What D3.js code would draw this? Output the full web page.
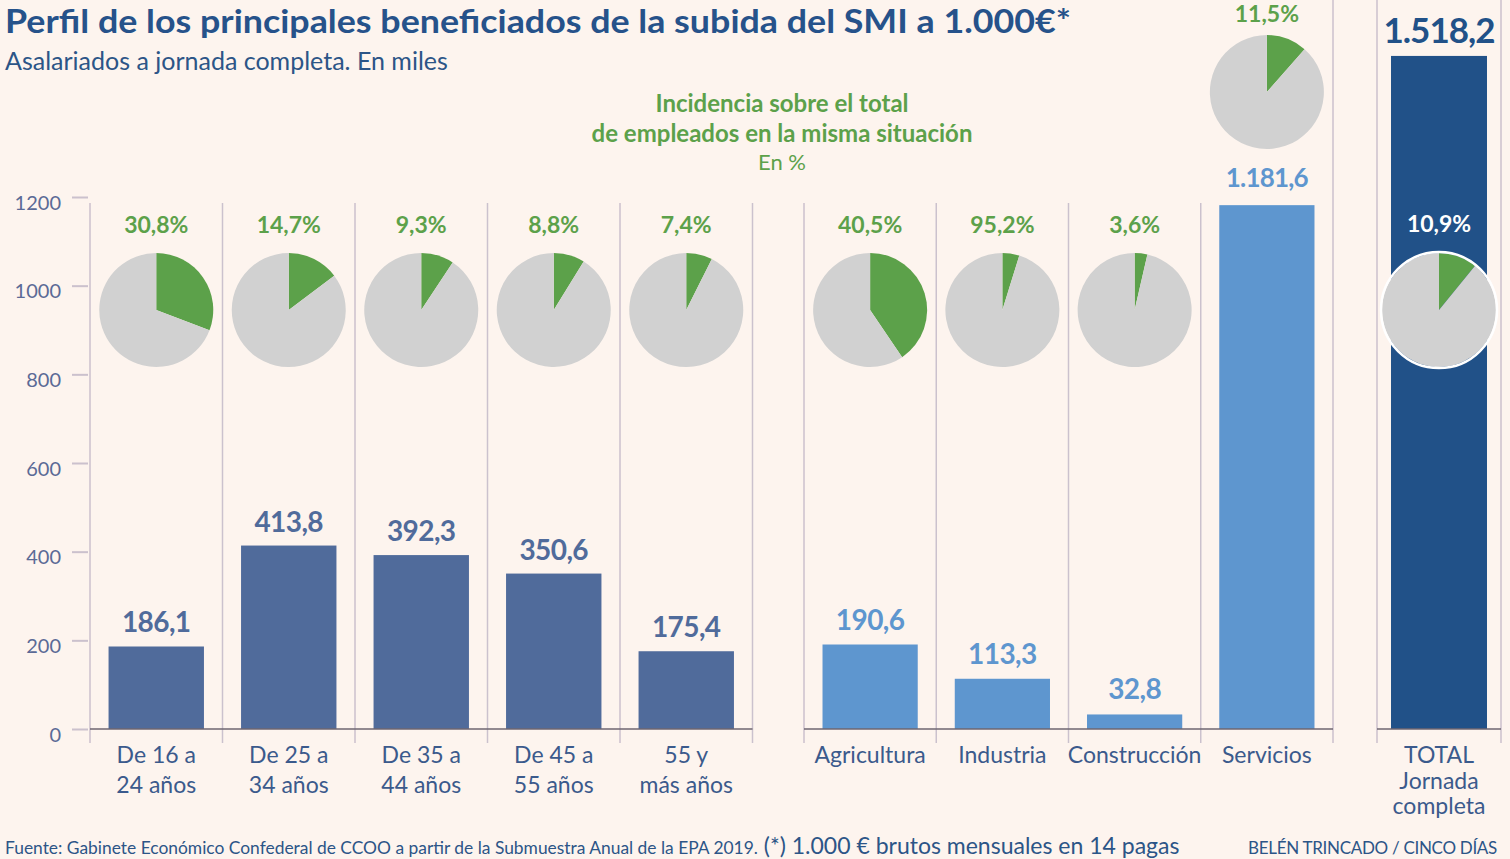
<!DOCTYPE html>
<html>
<head>
<meta charset="utf-8">
<script src="https://cdn.jsdelivr.net/npm/d3@7"></script>
<style>
  body { margin: 0; background: #fdf4ee; }
  svg { display: block; font-family: Lato, 'Open Sans', sans-serif; }
</style>
</head>
<body>
<svg id="chart" width="1510" height="859"></svg>
<script>
// Data
const ageLabels = [['De 16 a', '24 años'], ['De 25 a', '34 años'], ['De 35 a', '44 años'], ['De 45 a', '55 años'], ['55 y', 'más años']];
const ageValues = [186.1, 413.8, 392.3, 350.6, 175.4];
const agePct = [30.8, 14.7, 9.3, 8.8, 7.4];

const sectorLabels = ['Agricultura', 'Industria', 'Construcción', 'Servicios'];
const sectorValues = [190.6, 113.3, 32.8, 1181.6];
const sectorPct = [40.5, 95.2, 3.6, 11.5];
// the original pie for Industria shows the complement (4,8) of its label
const sectorPie = [40.5, 4.8, 3.6, 11.5];

const totalLabels = ['TOTAL', 'Jornada', 'completa'];
const totalValue = 1518.2;
const totalPct = 10.9;

const yTicks = [0, 200, 400, 600, 800, 1000, 1200];

// Colours
const GREEN = '#5ca14a';
const GREY = '#d1d1d1';
const SEP = '#cbc1cd';

// Number formatter (1.518,2)
const fmt = (v) => {
    const [i, d] = v.toFixed(1).split('.');
    return i.replace(/\B(?=(\d{3})+(?!\d))/g, '.') + ',' + d;
};

const svg = d3.select('#chart');

// Scales
const y = d3.scaleLinear().domain([0, 1200]).range([729, 197]);
const xAge = d3.scaleBand().domain(d3.range(ageValues.length)).range([90, 752.5]).paddingInner(0.28).paddingOuter(0.14);
const xSector = d3.scaleBand().domain(d3.range(sectorValues.length)).range([804, 1333]).paddingInner(0.28).paddingOuter(0.14);
const xTotal = d3.scaleBand().domain([0]).range([1377, 1501]).paddingInner(0.226).paddingOuter(0.113);

// Titles
svg.append('text').attr('x', 5).attr('y', 33)
    .attr('textLength', 1066).attr('lengthAdjust', 'spacingAndGlyphs')
    .text('Perfil de los principales beneficiados de la subida del SMI a 1.000€*')
    .style('font-size', '33px').style('font-weight', '700').style('fill', '#26528a');
svg.append('text').attr('x', 5).attr('y', 70)
    .text('Asalariados a jornada completa. En miles')
    .style('font-size', '25px').style('fill', '#2c5587');

const heading = [['Incidencia sobre el total', 112, 700, 24], ['de empleados en la misma situación', 142, 700, 24], ['En %', 170, 400, 22]];
heading.forEach(([t, yy, w, s]) => svg.append('text')
    .attr('x', 782).attr('y', yy).attr('text-anchor', 'middle').text(t)
    .style('font-size', s + 'px').style('font-weight', w).style('fill', GREEN));

// Y axis
const yAxis = svg.append('g').attr('transform', 'translate(88,0)')
    .call(d3.axisLeft(y).tickValues(yTicks).tickSize(16).tickPadding(11).tickFormat(d3.format('d')));
yAxis.select('.domain').remove();
yAxis.selectAll('line').attr('stroke', SEP).attr('stroke-width', 2);
yAxis.selectAll('text').attr('dy', '0.6em').style('font-size', '20px').style('fill', '#5b6a96').style('font-family', 'Lato, sans-serif');

// Separators between categories
const separators = (scale, n, fullIdx) => {
    const step = scale.step();
    const x0 = scale.range()[0];
    d3.range(n + 1).forEach(i => svg.append('line')
        .attr('x1', x0 + i * step).attr('x2', x0 + i * step)
        .attr('y1', fullIdx.includes(i) ? 0 : 203).attr('y2', 743)
        .attr('stroke', SEP).attr('stroke-width', 1.5));
};
separators(xAge, ageValues.length, []);
separators(xSector, sectorValues.length, [sectorValues.length]);
separators(xTotal, 1, [0, 1]);

// Bars
const drawBars = (scale, values, color) => svg.append('g')
    .selectAll('rect').data(values).join('rect')
    .attr('x', (d, i) => scale(i)).attr('width', scale.bandwidth())
    .attr('y', d => y(d)).attr('height', d => y(0) - y(d))
    .style('fill', color);
drawBars(xAge, ageValues, '#506b9b');
drawBars(xSector, sectorValues, '#5e96cf');
drawBars(xTotal, [totalValue], '#215188');

// Baselines
[xAge, xSector, xTotal].forEach(s => svg.append('line')
    .attr('x1', s.range()[0]).attr('x2', s.range()[1])
    .attr('y1', y(0)).attr('y2', y(0))
    .attr('stroke', '#6e6670').attr('stroke-width', 1.5));

// Value labels (size / gap may differ per bar)
const valueLabels = (scale, values, color, size, gap, ls) => svg.append('g')
    .selectAll('text').data(values).join('text')
    .attr('x', (d, i) => scale(i) + scale.bandwidth() / 2)
    .attr('y', (d, i) => y(d) - gap(i))
    .attr('text-anchor', 'middle')
    .text(d => fmt(d))
    .style('font-size', (d, i) => size(i) + 'px').style('font-weight', '700').style('fill', color)
    .style('letter-spacing', (d, i) => ls(i) + 'px');
valueLabels(xAge, ageValues, '#506b9b', () => 28, () => 14, () => -0.6);
valueLabels(xSector, sectorValues, '#5e96cf', i => i === 3 ? 26 : 28, i => i === 3 ? 18 : 15, i => i === 3 ? -0.8 : -0.6);
valueLabels(xTotal, [totalValue], '#215188', () => 35, () => 13, () => -1);

// Pies
const pie = d3.pie().sort(null).value(d => d);
const arc = d3.arc().innerRadius(0).outerRadius(57);
const drawPie = (cx, cy, pct, stroke) => {
    const g = svg.append('g').attr('transform', `translate(${cx},${cy})`);
    g.selectAll('path').data(pie([pct, 100 - pct])).join('path')
        .attr('d', arc).style('fill', (d, i) => i === 0 ? GREEN : GREY);
    if (stroke) g.append('circle').attr('r', 58).style('fill', 'none').attr('stroke', '#fff').attr('stroke-width', 2.5);
};
const pctLabel = (cx, yy, pct, color) => svg.append('text')
    .attr('x', cx).attr('y', yy).attr('text-anchor', 'middle')
    .text(fmt(pct) + '%')
    .style('font-size', '23px').style('font-weight', '700').style('fill', color);

agePct.forEach((p, i) => {
    const cx = xAge(i) + xAge.bandwidth() / 2;
    drawPie(cx, 310, p, false);
    pctLabel(cx, 233, p, GREEN);
});
sectorPct.forEach((p, i) => {
    const cx = xSector(i) + xSector.bandwidth() / 2;
    // Servicios: pie sits above its tall bar
    const top = i === 3;
    drawPie(cx, top ? 92 : 310, sectorPie[i], false);
    pctLabel(cx, top ? 22 : 233, p, GREEN);
});
const tcx = xTotal(0) + xTotal.bandwidth() / 2;
drawPie(tcx, 310, totalPct, true);
pctLabel(tcx, 232, totalPct, '#ffffff');

// Category labels
const catLabels = (scale, labels, lineGap) => labels.forEach((lines, i) => {
    const t = svg.append('text')
        .attr('x', scale(i) + scale.bandwidth() / 2).attr('y', 763)
        .attr('text-anchor', 'middle')
        .style('font-size', '23px').style('fill', '#3b5a8c');
    [].concat(lines).forEach((l, j) => t.append('tspan')
        .attr('x', scale(i) + scale.bandwidth() / 2).attr('dy', j === 0 ? 0 : lineGap).text(l));
});
catLabels(xAge, ageLabels, 30);
catLabels(xSector, sectorLabels, 30);
catLabels(xTotal, [totalLabels], 25.5);

// Footer
const foot = svg.append('text').attr('x', 5).attr('y', 854).style('fill', '#2c5587');
foot.append('tspan').text('Fuente: Gabinete Económico Confederal de CCOO a partir de la Submuestra Anual de la EPA 2019.')
    .style('font-size', '17.4px');
foot.append('tspan').text(' (*) 1.000 € brutos mensuales en 14 pagas').style('font-size', '23px');
svg.append('text').attr('x', 1497).attr('y', 854).attr('text-anchor', 'end')
    .text('BELÉN TRINCADO / CINCO DÍAS')
    .style('font-size', '17px').style('fill', '#2c5587').style('letter-spacing', '-0.3px');
</script>
</body>
</html>
